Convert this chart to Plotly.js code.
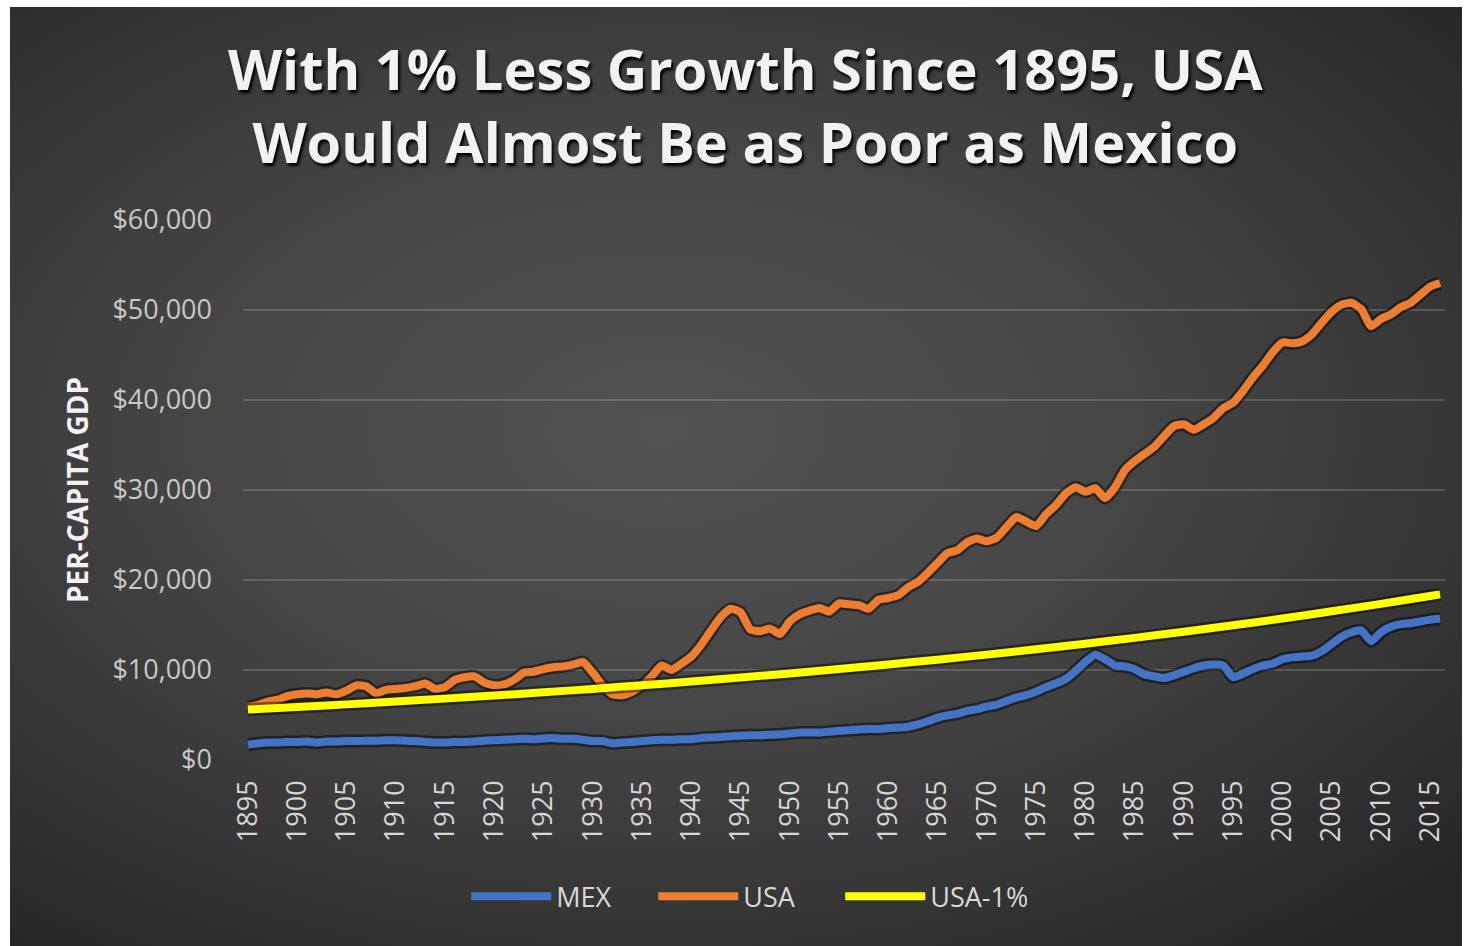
<!DOCTYPE html>
<html>
<head>
<meta charset="utf-8">
<script src="https://cdn.plot.ly/plotly-3.0.1.min.js"></script>
<style>
  html, body { margin: 0; padding: 0; background: #ffffff; width: 1470px; height: 946px; overflow: hidden; }
  #bg { position: absolute; left: 10px; top: 7px; width: 1452px; height: 939px;
        background: radial-gradient(ellipse 75% 70% at 45% 45%, #525252 0%, #474747 40%, #353535 75%, #262626 100%); }
  #chart { position: absolute; left: 0; top: 0; width: 1470px; height: 946px; }
</style>
</head>
<body>
<div id="bg"></div>
<div id="chart"></div>
<script>
// ---- data ----
const years = [1895,1896,1897,1898,1899,1900,1901,1902,1903,1904,1905,1906,1907,1908,1909,
  1910,1911,1912,1913,1914,1915,1916,1917,1918,1919,1920,1921,1922,1923,1924,1925,1926,1927,1928,1929,
  1930,1931,1932,1933,1934,1935,1936,1937,1938,1939,1940,1941,1942,1943,1944,1945,1946,1947,1948,1949,
  1950,1951,1952,1953,1954,1955,1956,1957,1958,1959,1960,1961,1962,1963,1964,1965,1966,1967,1968,1969,
  1970,1971,1972,1973,1974,1975,1976,1977,1978,1979,1980,1981,1982,1983,1984,1985,1986,1987,1988,1989,
  1990,1991,1992,1993,1994,1995,1996,1997,1998,1999,2000,2001,2002,2003,2004,2005,2006,2007,2008,2009,
  2010,2011,2012,2013,2014,2015,2016];

const mex = [1700,1850,1950,1950,2000,2000,2050,1950,2050,2050,2100,2100,2150,2150,2200,
  2200,2150,2100,2000,1950,1950,2000,2000,2050,2150,2200,2250,2300,2350,2300,2400,2450,2350,2350,2250,
  2100,2100,1850,1950,2000,2100,2200,2250,2250,2300,2300,2450,2500,2550,2650,2700,2750,2750,2800,2850,
  2950,3050,3050,3050,3150,3250,3300,3400,3450,3450,3550,3600,3700,3950,4300,4700,4950,5150,5450,5650,
  5950,6150,6550,6950,7200,7600,8100,8500,9000,9900,10900,11700,11200,10500,10400,10100,9500,9300,9100,9400,
  9800,10200,10500,10600,10500,9200,9600,10100,10500,10700,11200,11400,11500,11600,12100,12900,13700,14200,14400,13200,
  14200,14800,15100,15200,15400,15600,15700];

const usa = [5900,6100,6500,6700,7100,7300,7400,7300,7500,7300,7700,8300,8200,7400,7800,
  7900,8000,8200,8500,7900,8100,8900,9200,9300,8600,8300,8400,8900,9700,9800,10100,10300,10400,10600,10900,
  9700,8300,7300,7200,7600,8300,9300,10500,10000,10700,11500,12800,14400,15900,16800,16400,14500,14300,14600,14000,
  15400,16200,16600,16900,16500,17400,17300,17200,16800,17800,18000,18300,19200,19800,20800,21900,23000,23300,24200,24600,
  24300,24700,25900,27000,26500,26000,27300,28300,29600,30300,29800,30200,29100,30300,32200,33200,34000,34800,36000,37100,
  37300,36700,37300,38000,39100,39700,41000,42500,43800,45300,46400,46300,46500,47300,48600,49800,50600,50800,50100,48200,
  49000,49500,50300,50800,51700,52600,53000];

const usaMinus1Years = [1895,1900,1905,1910,1915,1920,1925,1930,1935,1940,1945,1950,1955,1960,
  1965,1970,1975,1980,1985,1990,1995,2000,2005,2010,2015,2016];
const usaMinus1 = [5600,5880,6180,6490,6820,7160,7520,7900,8300,8720,9160,9620,10100,10610,
  11150,11710,12300,12920,13570,14250,14970,15720,16520,17350,18220,18400];

const seriesNames = ['MEX', 'USA', 'USA-1%'];
const seriesColors = ['#4472C4', '#ED7D31', '#FFFF00'];

const xTickVals = [1895,1900,1905,1910,1915,1920,1925,1930,1935,1940,1945,1950,1955,1960,
  1965,1970,1975,1980,1985,1990,1995,2000,2005,2010,2015];
const xTickText = ['1895','1900','1905','1910','1915','1920','1925','1930','1935','1940','1945','1950','1955','1960',
  '1965','1970','1975','1980','1985','1990','1995','2000','2005','2010','2015'];
const yTickVals = [0,10000,20000,30000,40000,50000,60000];
const yTickText = ['$0','$10,000','$20,000','$30,000','$40,000','$50,000','$60,000'];

const titleText = 'With 1% Less Growth Since 1895, USA<br>Would Almost Be as Poor as Mexico';
const yTitleText = 'PER-CAPITA GDP';

// ---- traces ----
const xs = [years, years, usaMinus1Years];
const ys = [mex, usa, usaMinus1];
const traces = [];
for (let i = 0; i < 3; i++) {
  traces.push({
    x: xs[i], y: ys[i], type: 'scatter', mode: 'lines', showlegend: false, hoverinfo: 'skip',
    line: { color: 'rgba(0,0,0,0.45)', width: 13, shape: 'spline', smoothing: 0.5 }
  });
  traces.push({
    x: xs[i], y: ys[i], type: 'scatter', mode: 'lines', name: seriesNames[i],
    line: { color: seriesColors[i], width: 8, shape: 'spline', smoothing: 0.5 }
  });
}
const FONT = '"Open Sans", "DejaVu Sans", sans-serif';

const layout = {
  width: 1470, height: 946,
  paper_bgcolor: 'rgba(0,0,0,0)',
  plot_bgcolor: 'rgba(0,0,0,0)',
  margin: { l: 243, r: 25, t: 220, b: 186 },
  title: {
    text: titleText,
    font: { family: FONT, size: 56, color: '#f2f2f2', weight: 700, shadow: '2px 3px 3px #000' },
    x: 0.507, xanchor: 'center', xref: 'container',
    y: 0.905, yanchor: 'top', yref: 'container'
  },
  xaxis: {
    range: [1894.5, 2016.5],
    tickmode: 'array', tickvals: xTickVals, ticktext: xTickText,
    tickangle: -90,
    tickfont: { family: FONT, size: 27, color: '#d6d6d6' },
    showgrid: false, zeroline: false, showline: false, ticks: '',
    ticklabelstandoff: 14,
    fixedrange: true
  },
  yaxis: {
    range: [0, 60000],
    tickmode: 'array', tickvals: yTickVals, ticktext: yTickText,
    tickfont: { family: FONT, size: 27, color: '#c8c8c8' },
    showgrid: true, gridcolor: 'rgba(255,255,255,0.16)', gridwidth: 1.5,
    zeroline: false, showline: false, ticks: '',
    ticklabelstandoff: 30,
    title: { text: yTitleText, font: { family: FONT, size: 28, color: '#f2f2f2', weight: 700 }, standoff: 15 },
    fixedrange: true
  },
  legend: {
    orientation: 'h',
    xref: 'container', x: 0.508, xanchor: 'center',
    yref: 'container', y: 0.052, yanchor: 'middle',
    font: { family: FONT, size: 27, color: '#d9d9d9' },
    itemwidth: 80,
    entrywidth: 92,
    bgcolor: 'rgba(0,0,0,0)'
  },
  showlegend: true,
  hovermode: false
};

Plotly.newPlot('chart', traces, layout, { displayModeBar: false, staticPlot: true });
</script>
</body>
</html>
